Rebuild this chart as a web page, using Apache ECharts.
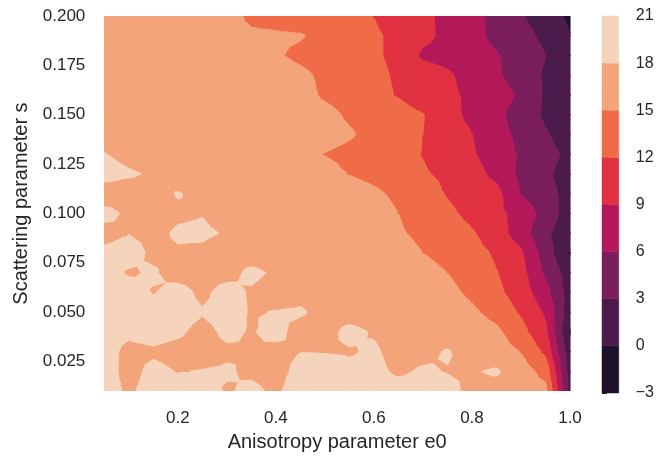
<!DOCTYPE html>
<html><head><meta charset="utf-8">
<script src="https://cdn.jsdelivr.net/npm/echarts@6/dist/echarts.min.js"></script>
<style>html,body{margin:0;padding:0;background:#fff}#c{width:657px;height:457px}</style>
</head><body><div id="c"></div>
<script>
// grid coordinates
const xValues = [0.05,0.10,0.15,0.20,0.25,0.30,0.35,0.40,0.45,0.50,0.55,0.60,0.65,0.70,0.75,0.80,0.85,0.90,0.95,1.00];
const yValues = [0.01,0.02,0.03,0.04,0.05,0.06,0.07,0.08,0.09,0.10,0.11,0.12,0.13,0.14,0.15,0.16,0.17,0.18,0.19,0.20];
// contour levels and colours
const levels = [-3,0,3,6,9,12,15,18,21];
const bandColors = ['#1d1129','#4b1b4c','#7a1e5c','#b4195a','#e13242','#f06c48','#f4a47a','#f6d4bc'];
const xTicks = [0.2,0.4,0.6,0.8,1.0];
const yTicks = [0.025,0.05,0.075,0.1,0.125,0.15,0.175,0.2];
// values, one row per y value (bottom to top), one column per x value
const zRows = [
/*0.01*/[19.0,17.6,19.0,19.0,19.5,17.7,18.6,17.5,19.5,19.2,19.2,19.2,19.0,19.0,18.8,17.3,17.0,16.5,15.8,2.0],
/*0.02*/[19.0,17.2,18.6,17.9,18.1,18.3,17.5,17.0,18.8,19.0,18.5,18.6,17.6,18.3,17.9,17.8,18.3,16.4,14.0,1.5],
/*0.03*/[19.0,17.3,17.6,17.2,17.0,17.6,18.0,17.2,18.0,17.9,17.8,18.3,17.2,17.3,18.2,16.8,16.5,14.9,11.3,1.0],
/*0.04*/[19.0,18.5,19.0,18.4,17.2,18.5,17.8,18.8,17.0,17.2,18.6,17.8,17.0,16.8,16.6,16.5,15.6,13.0,9.6,-0.2],
/*0.05*/[19.3,19.3,19.2,19.0,18.2,19.0,17.8,18.1,18.3,17.2,17.0,16.8,16.6,16.5,16.5,15.5,14.0,11.6,8.6,1.2],
/*0.06*/[19.3,19.3,17.85,19.0,17.4,19.0,17.7,16.8,17.2,16.6,16.5,16.5,16.5,16.5,15.8,14.4,12.7,10.5,7.1,1.5],
/*0.07*/[19.2,17.7,18.3,16.8,16.8,17.0,18.6,17.6,16.5,16.5,16.5,16.5,16.5,16.0,15.0,13.5,12.1,10.0,5.5,1.5],
/*0.08*/[18.6,19.2,17.4,17.75,17.5,16.8,16.6,16.5,16.5,16.5,16.5,16.5,16.0,15.0,14.0,13.0,11.6,9.4,4.5,-0.2],
/*0.09*/[17.0,17.9,17.4,18.3,18.4,17.8,16.8,16.5,16.5,16.5,16.5,16.5,15.3,14.4,13.4,12.3,10.3,7.5,3.6,1.0],
/*0.10*/[18.8,17.5,16.8,17.6,17.9,17.0,16.5,16.5,16.5,16.5,16.6,16.2,15.0,13.8,12.6,11.2,9.7,8.0,4.8,1.5],
/*0.11*/[16.5,16.8,17.0,18.15,17.3,16.8,16.5,16.5,16.5,16.5,16.3,15.5,14.4,13.3,11.8,10.6,9.8,5.9,3.8,2.2],
/*0.12*/[19.0,18.3,17.7,16.8,16.5,16.5,16.5,16.5,16.5,16.0,14.9,14.2,13.3,12.3,11.4,10.0,8.3,5.3,3.4,2.0],
/*0.13*/[18.1,17.2,16.8,16.5,16.5,16.5,16.5,16.5,16.0,14.9,14.3,13.6,12.8,11.9,10.6,9.3,7.6,5.6,4.0,2.3],
/*0.14*/[16.8,16.5,16.5,16.5,16.5,16.5,16.5,16.5,16.5,16.0,15.3,14.1,13.2,12.0,10.6,9.05,7.0,5.3,3.3,1.5],
/*0.15*/[16.5,16.5,16.5,16.5,16.5,16.5,16.5,16.5,16.3,15.8,14.6,13.9,13.0,12.1,10.2,8.1,6.7,4.7,2.5,1.2],
/*0.16*/[16.5,16.5,16.5,16.5,16.5,16.5,16.5,16.5,16.0,14.6,13.8,12.8,11.8,10.6,9.6,8.4,7.2,5.6,2.6,1.4],
/*0.17*/[16.5,16.5,16.5,16.5,16.5,16.5,16.5,16.3,15.6,14.4,13.6,12.7,11.6,10.5,9.4,7.9,6.4,4.6,2.6,1.5],
/*0.18*/[16.5,16.5,16.5,16.5,16.5,16.5,16.2,15.3,14.4,13.7,13.0,12.4,11.3,8.5,8.0,7.1,6.2,4.8,3.05,1.8],
/*0.19*/[16.5,16.5,16.5,16.5,16.5,16.5,15.6,15.4,15.2,14.2,13.3,12.4,11.3,9.7,8.3,6.9,5.3,4.0,2.3,0.1],
/*0.20*/[16.5,16.5,16.5,16.5,16.5,16.5,14.2,13.8,13.5,13.1,12.5,11.95,10.7,9.6,8.3,6.8,5.2,3.2,1.6,-0.6]
];

const TXT = '#262626';
const FONT = 'Liberation Sans';

// one item per grid cell
const cells = [];
for (let j = 0; j < yValues.length - 1; j++) {
  for (let i = 0; i < xValues.length - 1; i++) {
    cells.push([xValues[i], yValues[j], i, j]);
  }
}
const bands = [];
for (let k = 0; k < levels.length - 1; k++) bands.push([0, levels[k], levels[k + 1], k]);

function clip(pts, lv, above) {
  const out = [];
  const n = pts.length;
  for (let k = 0; k < n; k++) {
    const a = pts[k], b = pts[(k + 1) % n];
    const ina = above ? a.v >= lv : a.v <= lv;
    const inb = above ? b.v >= lv : b.v <= lv;
    if (ina) out.push(a);
    if (ina !== inb) {
      const t = (lv - a.v) / (b.v - a.v);
      out.push({x: a.x + t * (b.x - a.x), y: a.y + t * (b.y - a.y), v: lv});
    }
  }
  return out;
}

function renderCell(params, api) {
  const i = api.value(2), j = api.value(3);
  const corner = (ii, jj) => {
    const p = api.coord([xValues[ii], yValues[jj]]);
    return {x: p[0], y: p[1], v: zRows[jj][ii]};
  };
  const a = corner(i, j), b = corner(i + 1, j), c = corner(i + 1, j + 1), d = corner(i, j + 1);
  const m = {x: (a.x + b.x + c.x + d.x) / 4, y: (a.y + b.y + c.y + d.y) / 4, v: (a.v + b.v + c.v + d.v) / 4};
  const tris = [[a, b, m], [b, c, m], [c, d, m], [d, a, m]];
  const children = [];
  for (const tri of tris) {
    for (let k = 0; k < levels.length - 1; k++) {
      let p = clip(tri, levels[k], true);
      if (p.length < 3) continue;
      p = clip(p, levels[k + 1], false);
      if (p.length < 3) continue;
      children.push({
        type: 'polygon',
        shape: {points: p.map(q => [q.x, q.y])},
        style: {fill: bandColors[k], stroke: bandColors[k], lineWidth: 1.1, lineJoin: 'round'}
      });
    }
  }
  return {type: 'group', children: children};
}

function renderBand(params, api) {
  const p1 = api.coord([0, api.value(1)]);
  const p2 = api.coord([1, api.value(2)]);
  return {
    type: 'rect',
    shape: {x: p1[0], y: p2[1], width: p2[0] - p1[0], height: p1[1] - p2[1]},
    style: {fill: bandColors[api.value(3)], stroke: bandColors[api.value(3)], lineWidth: 0.5}
  };
}

const chart = echarts.init(document.getElementById('c'), null, {renderer: 'canvas'});
chart.setOption({
  animation: false,
  backgroundColor: '#ffffff',
  textStyle: {fontFamily: FONT},
  grid: [
    {left: 104.3, right: 87, top: 16, bottom: 64, containLabel: false},
    {left: 602, width: 17, top: 16, bottom: 64, containLabel: false}
  ],
  xAxis: [
    {
      type: 'value', gridIndex: 0, min: 0.05, max: 1.0,
      axisLine: {show: false}, axisTick: {show: false}, splitLine: {show: false},
      axisLabel: {customValues: xTicks, formatter: v => v.toFixed(1), margin: 19, fontSize: 17, color: TXT, fontFamily: FONT},
      name: 'Anisotropy parameter e0', nameLocation: 'middle', nameGap: 36,
      nameTextStyle: {fontSize: 20, color: TXT, fontFamily: FONT}
    },
    {type: 'value', gridIndex: 1, min: 0, max: 1, show: false}
  ],
  yAxis: [
    {
      type: 'value', gridIndex: 0, min: 0.01, max: 0.2,
      axisLine: {show: false}, axisTick: {show: false}, splitLine: {show: false},
      axisLabel: {customValues: yTicks, formatter: v => v.toFixed(3), margin: 19, fontSize: 17, color: TXT, fontFamily: FONT},
      name: 'Scattering parameter s', nameLocation: 'middle', nameGap: 73,
      nameTextStyle: {fontSize: 20, color: TXT, fontFamily: FONT}
    },
    {
      type: 'value', gridIndex: 1, min: -3, max: 21, interval: 3, position: 'right',
      axisLine: {show: false}, splitLine: {show: false},
      axisTick: {show: true, length: 5, lineStyle: {color: TXT, width: 1}},
      axisLabel: {margin: 17, fontSize: 16, color: TXT, fontFamily: FONT,
        formatter: v => (v < 0 ? '\u2212' + Math.abs(v) : String(v))}
    }
  ],
  series: [
    {
      type: 'custom', xAxisIndex: 0, yAxisIndex: 0, clip: true,
      encode: {x: 0, y: 1}, data: cells, renderItem: renderCell, silent: true
    },
    {
      type: 'custom', xAxisIndex: 1, yAxisIndex: 1,
      encode: {x: 0, y: 1}, data: bands, renderItem: renderBand, silent: true
    }
  ]
});
</script>
</body></html>
